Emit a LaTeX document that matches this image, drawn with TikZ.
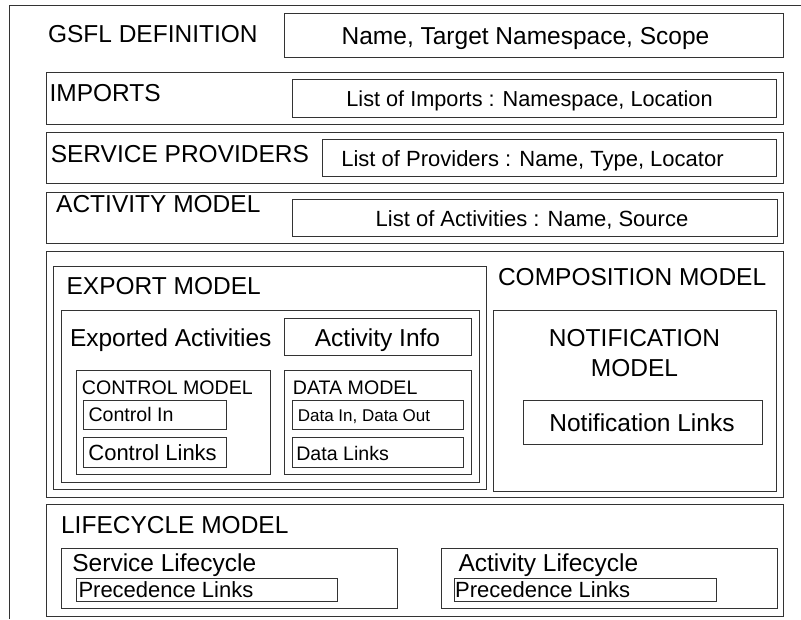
\documentclass[tikz,border=0pt]{standalone}
\usepackage{fontspec}
\setmainfont{Liberation Sans}
\usetikzlibrary{fit}

\tikzset{
  box/.style={draw=black!80, line width=0.9pt, inner sep=0pt},
  lbl/.style={anchor=base west, inner sep=0pt},
  ctr/.style={anchor=base, inner sep=0pt},
  big/.style={font=\fontsize{24.5}{29}\selectfont},
  mid/.style={font=\fontsize{22}{26}\selectfont},
  sml/.style={font=\fontsize{19.6}{23}\selectfont},
  tny/.style={font=\fontsize{17}{20}\selectfont},
}

\begin{document}
\begin{tikzpicture}[x=1pt,y=-1pt]
          \useasboundingbox (0,0) rectangle (801,619);
          % outer frame
          \draw[black!80,line width=0.9pt] (9,619) -- (9,5) -- (801,5);

          % definition
          \node[lbl,big] (gsfl) at (47.8,42) {GSFL DEFINITION};
          \node[box,fit={(284,13)(783,57)}] (gsflbox) {};
          \node[ctr,big] (gsfltxt) at (525.5,44.5) {Name, Target Namespace, Scope};

          % imports
          \node[box,fit={(46,72)(783,124)}] (imports) {};
          \node[lbl,big] (importslbl) at (49.4,101) {IMPORTS};
          \node[box,fit={(292,79)(776,117)}] (importlist) {};
          \node[ctr,mid,font=\fontsize{21.7}{26}\selectfont] (importtxt) at (529.5,106) {List of Imports : Namespace, Location};

          % service providers
          \node[box,fit={(46,132)(783,183)}] (providers) {};
          \node[lbl,big] (providerslbl) at (50.6,162) {SERVICE PROVIDERS};
          \node[box,fit={(322,139)(776,176)}] (providerlist) {};
          \node[ctr,mid] (providertxt) at (532.5,166.7) {List of Providers : Name, Type, Locator};

          % activity model
          \node[box,fit={(46,192)(783,243)}] (activity) {};
          \node[lbl,big] (activitylbl) at (56,212.3) {ACTIVITY MODEL};
          \node[box,fit={(292,199)(777,236)}] (activitylist) {};
          \node[ctr,mid] (activitytxt) at (532,226) {List of Activities : Name, Source};

          % composition model
          \node[box,fit={(46,251)(783,497)}] (composition) {};
          \node[lbl,big] (compositionlbl) at (497.8,285) {COMPOSITION MODEL};

          % export model
          \node[box,fit={(53,266)(486,489)}] (export) {};
          \node[lbl,big] (exportlbl) at (66.4,294) {EXPORT MODEL};
          \node[box,fit={(61,310)(479,482)}] (exported) {};
          \node[lbl,big] (exportedlbl) at (69.8,346.7) {Exported Activities};
          \node[box,fit={(284,318)(471,355)}] (actinfo) {};
          \node[ctr,big] (actinfotxt) at (377.5,346) {Activity Info};

          % control model
          \node[box,fit={(76,370)(270,474)}] (control) {};
          \node[lbl,sml] (controllbl) at (81.7,394) {CONTROL MODEL};
          \node[box,fit={(83,400)(226,429)}] (controlin) {};
          \node[lbl,sml] (controlintxt) at (88.3,421.7) {Control In};
          \node[box,fit={(83,437)(226,467)}] (controllinks) {};
          \node[lbl,mid] (controllinkstxt) at (88.2,460) {Control Links};

          % data model
          \node[box,fit={(284,370)(471,474)}] (data) {};
          \node[lbl,sml] (datalbl) at (292.7,394) {DATA MODEL};
          \node[box,fit={(292,400)(463,429)}] (datainout) {};
          \node[lbl,tny] (datainouttxt) at (297.6,421) {Data In, Data Out};
          \node[box,fit={(292,437)(463,467)}] (datalinks) {};
          \node[lbl,sml] (datalinkstxt) at (296.1,460) {Data Links};

          % notification model
          \node[box,fit={(493,310)(776,491)}] (notif) {};
          \node[ctr,big] (notiflbl) at (634.5,346.7) {NOTIFICATION};
          \node[ctr,big] (notiflbltwo) at (634.5,376.7) {MODEL};
          \node[box,fit={(523,400)(762,444)}] (notiflinks) {};
          \node[ctr,big] (notiflinkstxt) at (642,431) {Notification Links};

          % lifecycle model
          \node[box,fit={(46,504)(783,616)}] (lifecycle) {};
          \node[lbl,big] (lifecyclelbl) at (60.9,533.3) {LIFECYCLE MODEL};
          \node[box,fit={(61,548)(397,608)}] (svclife) {};
          \node[lbl,big] (svclifelbl) at (72.2,571.7) {Service Lifecycle};
          \node[box,fit={(76,578)(337,601)}] (svcprec) {};
          \node[lbl,mid] (svcprectxt) at (78.3,597.3) {Precedence Links};
          \node[box,fit={(441,548)(777,608)}] (actlife) {};
          \node[lbl,big] (actlifelbl) at (458.3,571.7) {Activity Lifecycle};
          \node[box,fit={(454,578)(716,601)}] (actprec) {};
          \node[lbl,mid] (actprectxt) at (455,597.3) {Precedence Links};
        \end{tikzpicture}
\end{document}
